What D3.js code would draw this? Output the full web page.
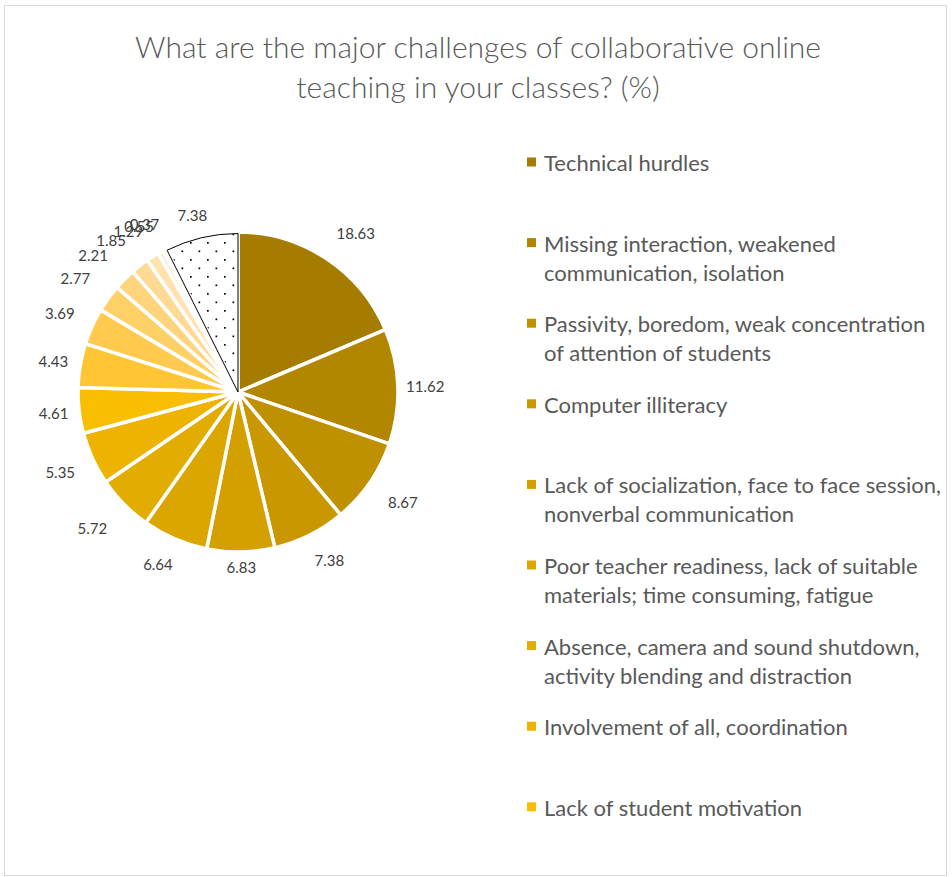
<!DOCTYPE html>
<html><head><meta charset="utf-8">
<script src="https://cdn.jsdelivr.net/npm/d3@7"></script>
<style>body{margin:0;background:#fff}svg{display:block}</style>
</head><body>
<script>
// ---- data ----
const values = [18.63, 11.62, 8.67, 7.38, 6.83, 6.64, 5.72, 5.35, 4.61, 4.43, 3.69, 2.77, 2.21, 1.85, 1.29, 0.55, 0.37, 7.38];
const valueLabels = ["18.63","11.62","8.67","7.38","6.83","6.64","5.72","5.35","4.61","4.43","3.69","2.77","2.21","1.85","1.29","0.55","0.37","7.38"];
const legendLabels = [
  ["Technical hurdles"],
  ["Missing interaction, weakened", "communication, isolation"],
  ["Passivity, boredom, weak concentration", "of attention of students"],
  ["Computer illiteracy"],
  ["Lack of socialization, face to face session,", "nonverbal communication"],
  ["Poor teacher readiness, lack of suitable", "materials; time consuming, fatigue"],
  ["Absence, camera and sound shutdown,", "activity blending and distraction"],
  ["Involvement of all, coordination"],
  ["Lack of student motivation"]
];
const titleLines = ["What are the major challenges of collaborative online", "teaching in your classes? (%)"];
const colors = ["#A67C00","#B38600","#BF9000","#C99700","#D4A000","#DBA600","#E3AC00","#EDB300","#F9BE00",
                "#FFC533","#FFCA4D","#FFD066","#FFD47C","#FFDA94","#FFE2AE","#FFEBCC","#FFF2DE","url(#dots)"];

const W = 952, H = 877;
const FONT = "Lato, 'Open Sans', sans-serif";
const svg = d3.select("body").append("svg").attr("width", W).attr("height", H);

const defs = svg.append("defs");
const pat = defs.append("pattern").attr("id","dots").attr("patternUnits","userSpaceOnUse")
  .attr("width",17).attr("height",17);
pat.append("rect").attr("width",17).attr("height",17).attr("fill","#fff");
pat.append("rect").attr("x",3).attr("y",3).attr("width",1.7).attr("height",1.7).attr("fill","#000");
pat.append("rect").attr("x",11.5).attr("y",11.5).attr("width",1.7).attr("height",1.7).attr("fill","#000");

// border
svg.append("rect").attr("x",4.5).attr("y",5.5).attr("width",942).attr("height",870)
  .attr("fill","#fff").attr("stroke","#D9D9D9").attr("stroke-width",1);

// title
const title = svg.append("text").attr("text-anchor","middle")
  .attr("font-family",FONT).attr("font-weight",300)
  .attr("font-size",30).attr("fill","#595959");
titleLines.forEach((t,i)=>title.append("tspan").attr("x",478).attr("y",58 + i*40).text(t));

// pie
const cx = 238, cy = 392, r = 160;
const pie = d3.pie().sort(null).value(d=>d)(values);
const arc = d3.arc().innerRadius(0).outerRadius(r);
const g = svg.append("g").attr("transform",`translate(${cx},${cy})`);
g.selectAll("path.slice").data(pie).join("path").attr("class","slice")
  .attr("d",arc).attr("fill",(d,i)=>colors[i])
  .attr("stroke","#fff").attr("stroke-width",3.5).attr("stroke-linejoin","round");
const last = pie[pie.length-1];
g.append("path").attr("d", d3.arc().innerRadius(0).outerRadius(r-1.5)(last))
  .attr("fill","none").attr("stroke","#000").attr("stroke-width",1);

// labels (outside end, box corner touching an anchor circle)
const fs = 15;
const clamp = v => Math.max(-1, Math.min(1, v));
g.selectAll("text.lbl").data(pie).join("text").attr("class","lbl")
  .attr("font-family",FONT).attr("font-size",fs).attr("fill","#404040")
  .attr("text-anchor","middle").attr("dominant-baseline","central")
  .text((d,i)=>valueLabels[i])
  .each(function(d){
    const a = (d.startAngle + d.endAngle)/2;
    const w = this.getComputedTextLength();
    const R = r + 6 + 16*Math.abs(Math.sin(2*a));
    const x = Math.sin(a)*R + clamp(Math.sin(a)*1.6)*(w/2 + 1);
    const y = -Math.cos(a)*R - clamp(Math.cos(a)*1.6)*(fs/2 + 1);
    d3.select(this).attr("x",x).attr("y",y);
  });

// legend
const lg = svg.append("g");
legendLabels.forEach((lines,i)=>{
  const y0 = 162 + i*80.6;
  lg.append("rect").attr("x",527).attr("y",y0-4.5).attr("width",9).attr("height",9).attr("fill",colors[i]);
  const t = lg.append("text").attr("font-family",FONT).attr("font-size",22)
    .attr("fill","#595959").attr("dominant-baseline","central");
  lines.forEach((s,j)=>t.append("tspan").attr("x",544).attr("y",y0 + j*29).text(s));
});
</script>
</body></html>
